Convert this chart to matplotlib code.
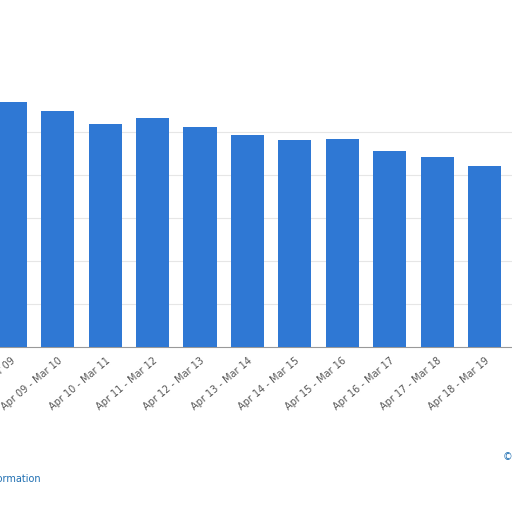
import matplotlib
matplotlib.use("Agg")
import matplotlib.pyplot as plt

categories = ["Apr 08 - Mar 09", "Apr 09 - Mar 10", "Apr 10 - Mar 11", "Apr 11 - Mar 12",
              "Apr 12 - Mar 13", "Apr 13 - Mar 14", "Apr 14 - Mar 15", "Apr 15 - Mar 16",
              "Apr 16 - Mar 17", "Apr 17 - Mar 18", "Apr 18 - Mar 19", "Apr 19 - Mar 20"]
values = [5.70, 5.49, 5.19, 5.33, 5.12, 4.93, 4.81, 4.84, 4.56, 4.42, 4.21, 4.10]

fig = plt.figure(figsize=(5.12, 5.12), dpi=100)
ax = fig.add_axes([0, 0.322, 1, 0.492])
x = list(range(len(categories)))
ax.bar(x, values, width=0.7, color="#2f78d4", zorder=3)
ax.set_yticks([1, 2, 3, 4, 5])
ax.set_yticklabels([])
ax.tick_params(axis="y", length=0)
ax.grid(axis="y", color="#e6e6e6", lw=0.8, zorder=0)
ax.set_xticks(x)
ax.set_xticklabels(categories, rotation=40, ha="right", fontsize=7, color="#555555",
                   rotation_mode="anchor")
ax.tick_params(axis="x", length=0, pad=6)
ax.set_xlim(-0.22, 10.58)
ax.set_ylim(0, 5.86)
for s in ["top", "left", "right"]:
    ax.spines[s].set_visible(False)
ax.spines["bottom"].set_color("#999999")
fig.text(41/512, 1 - 479/512, "Additional Information", ha="right", va="center",
         fontsize=7, color="#1f6fb2")
fig.text(1.0, 1 - 457/512, "©", ha="right", va="center", fontsize=7, color="#1f6fb2")
fig.savefig("out.png", dpi=100)
